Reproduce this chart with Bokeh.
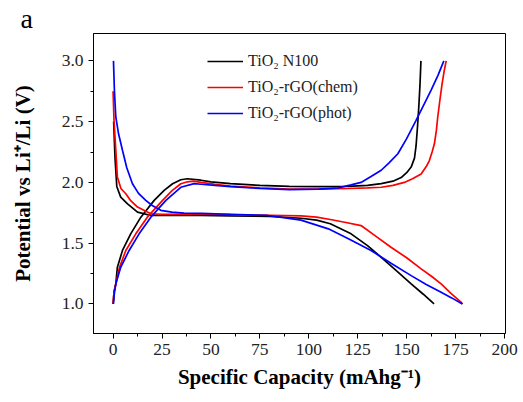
from bokeh.plotting import figure
from bokeh.models import Range1d, FixedTicker, Legend, LegendItem
from bokeh.embed import file_html
from bokeh.resources import INLINE

# ---- data ----
names = ["TiO\u2082 N100", "TiO\u2082-rGO(chem)", "TiO\u2082-rGO(phot)"]
colors = ["#000000", "#ff0000", "#0000ff"]

# charge curves (1.0 V -> 3.0 V)
n100_chg_x = [0, 0.5, 1.4, 2.2, 4.8, 9.0, 14.2, 21.0, 26.1, 30.4, 34.6, 38, 44.9, 50, 60, 75, 90, 105, 120, 130, 137, 143, 147.2, 150, 152.3, 154, 154.8, 155.5, 156.2, 156.8, 157.3]
n100_chg_v = [1.0, 1.1, 1.165, 1.302, 1.44, 1.577, 1.714, 1.852, 1.934, 1.989, 2.022, 2.03, 2.018, 2.005, 1.99, 1.975, 1.968, 1.965, 1.968, 1.975, 1.99, 2.01, 2.04, 2.08, 2.126, 2.2, 2.3, 2.45, 2.62, 2.8, 3.0]

chem_chg_x = [0, 0.5, 1.4, 3.3, 6.5, 11.6, 17.5, 25.3, 30, 34.6, 38, 41, 45, 52, 60, 75, 90, 105, 120, 130, 137, 143, 148.8, 153, 157.4, 160, 161.6, 163, 164.2, 165.2, 165.9, 167, 168.1, 169.2, 170.2]
chem_chg_v = [1.0, 1.1, 1.165, 1.302, 1.44, 1.577, 1.714, 1.852, 1.93, 1.989, 2.005, 2.01, 2.0, 1.985, 1.97, 1.955, 1.945, 1.945, 1.95, 1.955, 1.96, 1.975, 2.0, 2.03, 2.07, 2.13, 2.18, 2.25, 2.32, 2.43, 2.54, 2.68, 2.81, 2.92, 3.0]

phot_chg_x = [0.2, 0.6, 1.4, 3.9, 8.2, 13.3, 19.3, 27, 34.6, 41.4, 45, 52, 60, 75, 90, 105, 115, 121.6, 126.7, 132, 137, 141, 145.5, 150, 154.8, 158.5, 162.5, 166, 169]
phot_chg_v = [1.0, 1.08, 1.165, 1.302, 1.44, 1.577, 1.714, 1.852, 1.96, 1.99, 1.985, 1.975, 1.965, 1.95, 1.94, 1.945, 1.955, 1.98, 2.0, 2.05, 2.1, 2.16, 2.236, 2.36, 2.51, 2.63, 2.76, 2.88, 3.0]

# discharge curves (start high -> 1.0 V)
n100_dis_x = [0.3, 1.0, 1.9, 3.9, 7.4, 12.5, 19.3, 30, 45, 60, 80, 96, 104, 111, 121.6, 130, 137, 145, 152.3, 158.5, 164]
n100_dis_v = [2.5, 2.2, 1.967, 1.879, 1.824, 1.755, 1.728, 1.728, 1.728, 1.725, 1.72, 1.705, 1.69, 1.66, 1.577, 1.48, 1.384, 1.27, 1.165, 1.08, 1.0]

chem_dis_x = [0, 0.5, 1.4, 2.2, 4, 6.5, 9, 12.5, 19.3, 25, 45, 60, 80, 96, 104, 111, 119, 126.7, 134, 142, 150, 157.4, 162.5, 167.6, 172.5, 177.9, 178.5]
chem_dis_v = [2.75, 2.5, 2.264, 2.044, 1.95, 1.907, 1.85, 1.797, 1.742, 1.738, 1.74, 1.735, 1.73, 1.725, 1.715, 1.695, 1.67, 1.645, 1.56, 1.467, 1.38, 1.289, 1.23, 1.165, 1.09, 1.013, 1.0]

phot_dis_x = [0.2, 0.7, 1.4, 2.8, 4.8, 7, 9.9, 13, 16.7, 20, 24.4, 30, 36.3, 45, 60, 79, 96, 110, 121, 131.8, 142, 152.3, 160, 167.6, 173, 178.5]
phot_dis_v = [3.0, 2.75, 2.538, 2.4, 2.264, 2.12, 1.989, 1.91, 1.852, 1.81, 1.77, 1.755, 1.747, 1.745, 1.738, 1.728, 1.69, 1.618, 1.53, 1.44, 1.335, 1.233, 1.16, 1.096, 1.05, 1.0]

x_ticks = [0, 25, 50, 75, 100, 125, 150, 175, 200]
x_minor = [12.5, 37.5, 62.5, 87.5, 112.5, 137.5, 162.5, 187.5]
y_ticks = [1.0, 1.5, 2.0, 2.5, 3.0]
y_minor = [1.25, 1.75, 2.25, 2.75]

FONT = "Liberation Serif"

p = figure(width=523, height=402, output_backend="svg", toolbar_location=None,
           x_range=Range1d(-10, 200.5), y_range=Range1d(0.757, 3.225),
           min_border_left=93, min_border_right=18, min_border_top=0, min_border_bottom=69)

p.title.text = "a"
p.title.text_font = FONT
p.title.text_font_size = "28px"
p.title.text_font_style = "normal"
p.title.text_color = "black"
p.title.align = "left"
p.title.offset = -73
p.title.standoff = 0

p.outline_line_color = "black"
p.outline_line_width = 1
p.xgrid.visible = False
p.ygrid.visible = False
p.background_fill_color = "white"
p.border_fill_color = "white"

series = [
    (n100_chg_x, n100_chg_v, n100_dis_x, n100_dis_v),
    (chem_chg_x, chem_chg_v, chem_dis_x, chem_dis_v),
    (phot_chg_x, phot_chg_v, phot_dis_x, phot_dis_v),
]
items = []
for (cx, cv, dx, dv), c, nm in zip(series, colors, names):
    r1 = p.line(cx, cv, line_color=c, line_width=1.7)
    p.line(dx, dv, line_color=c, line_width=1.7)
    items.append(LegendItem(label=nm, renderers=[r1]))

legend = Legend(items=items, location=(114, 210), padding=0, margin=0,
                spacing=6, glyph_width=36, glyph_height=20, label_height=20,
                label_standoff=5, label_text_font=FONT, label_text_font_size="16px",
                label_text_color="#222222",
                border_line_color=None, background_fill_alpha=0)
p.add_layout(legend, "center")

for ax in (p.xaxis[0], p.yaxis[0]):
    ax.major_label_text_font = FONT
    ax.major_label_text_font_size = "17.5px"
    ax.major_label_text_color = "#222222"
    ax.axis_label_text_font = FONT
    ax.axis_label_text_font_style = "bold"
    ax.axis_label_text_font_size = "21px"
    ax.axis_label_text_color = "black"
    ax.major_tick_in = 0
    ax.major_tick_out = 5
    ax.minor_tick_in = 0
    ax.minor_tick_out = 3
    ax.axis_line_color = "black"

p.xaxis.ticker = FixedTicker(ticks=x_ticks, minor_ticks=x_minor)
p.yaxis.ticker = FixedTicker(ticks=y_ticks, minor_ticks=y_minor)
p.xaxis.major_label_overrides = {t: str(t) for t in x_ticks}
p.yaxis.major_label_overrides = {t: f"{t:.1f}" for t in y_ticks}
p.xaxis.axis_label = "Specific Capacity (mAhg\u207b\u00b9)"
p.yaxis.axis_label = "Potential vs Li\u207a/Li (V)"
p.xaxis.major_label_standoff = 5
p.yaxis.major_label_standoff = 5
p.xaxis.axis_label_standoff = 7
p.yaxis.axis_label_standoff = 24

open("out.html", "w").write(file_html(p, INLINE))
